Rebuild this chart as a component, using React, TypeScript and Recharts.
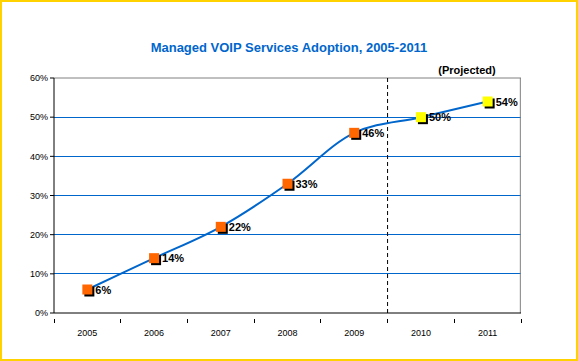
import React from "react";
import {
  ComposedChart,
  Line,
  XAxis,
  YAxis,
  CartesianGrid,
  ReferenceLine,
  LabelList,
} from "recharts";

const years = [2005, 2006, 2007, 2008, 2009, 2010, 2011];
const adoption = [6, 14, 22, 33, 46, 50, 54];
const projected = [false, false, false, false, false, true, true];
const yTicks = [0, 10, 20, 30, 40, 50, 60];
const gridValues = [10, 20, 30, 40, 50];
const edgeTicks = [2004.5, 2005.5, 2006.5, 2007.5, 2008.5, 2009.5, 2010.5, 2011.5];
const xTicks = [...edgeTicks, ...years].sort((a, b) => a - b);

const data = years.map((year, i) => ({
  year,
  value: adoption[i],
  projected: projected[i],
}));

const BLUE = "#0066CC";
const FONT = "'Liberation Sans', Arial, sans-serif";

const SquareDot = (props: any) => {
  const { cx, cy, payload } = props;
  if (cx == null || cy == null) return null;
  const s = 10;
  return (
    <g>
      <rect x={cx - s / 2 + 2} y={cy - s / 2 + 2} width={s} height={s} fill="#000" />
      <rect
        x={cx - s / 2}
        y={cy - s / 2}
        width={s}
        height={s}
        fill={payload.projected ? "#FFFF00" : "#FF6600"}
      />
    </g>
  );
};

const ValueLabel = (props: any) => {
  const { x, y, value } = props;
  return (
    <text x={x + 8} y={y + 4} fontSize={11} fontWeight="bold" fontFamily={FONT} fill="#000">
      {value}%
    </text>
  );
};

// year labels at category centres, tick marks at category edges
const YearTick = (props: any) => {
  const { x, y, payload } = props;
  const v = payload.value;
  if (Number.isInteger(v)) {
    return (
      <text x={x} y={y + 17} textAnchor="middle" fontSize={9} fontFamily={FONT} fill="#000">
        {v}
      </text>
    );
  }
  return <line x1={x} x2={x} y1={y} y2={y + 4} stroke="#000" shapeRendering="crispEdges" />;
};

const GridLine = (props: any) => {
  const { x1, x2, y1, y2 } = props;
  return (
    <line x1={x1} x2={x2} y1={y1} y2={y2} stroke={BLUE} strokeWidth={1} shapeRendering="crispEdges" />
  );
};

export default function App() {
  return (
    <div style={{ position: "absolute", left: 0, top: 0, width: 578, height: 361, background: "#fff" }}>
      <ComposedChart
        width={578}
        height={361}
        data={data}
        margin={{ top: 78, right: 57, bottom: 18, left: 0 }}
        style={{ position: "absolute", left: 0, top: 0 }}
      >
        <CartesianGrid
          vertical={false}
          horizontal={(p: any) => <GridLine {...p} />}
          horizontalValues={gridValues}
        />
        <XAxis
          type="number"
          dataKey="year"
          domain={[2004.5, 2011.5]}
          allowDataOverflow
          ticks={xTicks}
          interval={0}
          axisLine={{ stroke: "#000" }}
          tickLine={false}
          tick={<YearTick />}
          tickMargin={0}
          height={30}
        />
        <YAxis
          type="number"
          domain={[0, 60]}
          ticks={yTicks}
          interval={0}
          width={54}
          axisLine={{ stroke: "#000" }}
          tickLine={{ stroke: "#000" }}
          tickSize={4}
          tickFormatter={(v) => `${v}%`}
          tick={{ fontSize: 9, fill: "#000", fontFamily: FONT }}
        />
        <ReferenceLine y={60} stroke="#808080" ifOverflow="visible" />
        <ReferenceLine x={2011.49} stroke="#808080" ifOverflow="visible" />
        <ReferenceLine x={2009.5} stroke="#000" strokeDasharray="4 3" />
        <Line
          type="monotone"
          dataKey="value"
          stroke={BLUE}
          strokeWidth={2}
          dot={<SquareDot />}
          activeDot={false}
          isAnimationActive={false}
        >
          <LabelList dataKey="value" content={<ValueLabel />} />
        </Line>
      </ComposedChart>
      <div
        style={{
          position: "absolute",
          left: 0,
          top: 40,
          width: 578,
          textAlign: "center",
          fontFamily: FONT,
          fontWeight: "bold",
          fontSize: 13,
          color: BLUE,
        }}
      >
        Managed VOIP Services Adoption, 2005-2011
      </div>
      <div
        style={{
          position: "absolute",
          left: 417,
          top: 64,
          width: 100,
          textAlign: "center",
          fontFamily: FONT,
          fontWeight: "bold",
          fontSize: 11,
          color: "#000",
        }}
      >
        (Projected)
      </div>
      <div
        style={{
          position: "absolute",
          left: 0,
          top: 0,
          width: 578,
          height: 361,
          boxSizing: "border-box",
          border: "2px solid #FFD200",
          pointerEvents: "none",
        }}
      />
    </div>
  );
}
